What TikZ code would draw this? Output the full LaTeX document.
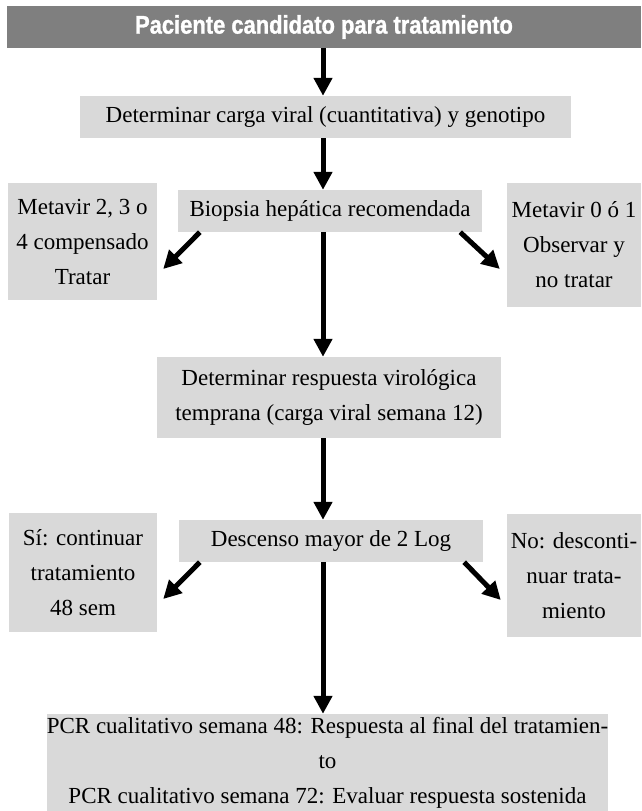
\documentclass[tikz,border=0pt]{standalone}
\usepackage{fontspec}
\setmainfont{Liberation Serif}
\newfontfamily\headfont[FakeStretch=0.86,FakeBold=1.2]{Liberation Sans}
\usepackage{tikz}
\usetikzlibrary{arrows.meta,positioning,calc}
\definecolor{boxgray}{HTML}{D9D9D9}
\definecolor{headgray}{HTML}{7F7F7F}

\begin{document}
\begin{tikzpicture}[x=1pt,y=-1pt,
    box/.style={fill=boxgray,inner sep=0pt,align=center,
      font=\fontsize{23}{35}\selectfont},
    arr/.style={line width=5pt,-{Triangle[width=18pt,length=18pt]}}]
        \useasboundingbox (0,0) rectangle (641,811);
        \coordinate (axis) at (323,0);
        \node[fill=headgray,text=white,inner sep=0pt,minimum width=634pt,minimum height=42pt,
          font=\headfont\bfseries\fontsize{25.5}{28}\selectfont] (head) at (324,27) {Paciente candidato para tratamiento};
        \node[box,minimum width=491pt,minimum height=42pt] (carga) at (325.5,117) {Determinar carga viral (cuantitativa) y genotipo};
        \node[box,minimum width=149pt,minimum height=117pt] (meta1) at (82.5,241.5) {Metavir 2, 3 o\\4 compensado\\Tratar};
        \node[box,minimum width=304pt,minimum height=42pt] (biopsia) at (330,211) {Biopsia hepática recomendada};
        \node[box,minimum width=134pt,minimum height=124pt] (meta0) at (574,245) {Metavir 0 ó 1\\Observar y\\no tratar};
        \node[box,minimum width=344pt,minimum height=81pt] (resp) at (329,397.5) {Determinar respuesta virológica\\temprana (carga viral semana 12)};
        \node[box,minimum width=148pt,minimum height=119pt] (si) at (83,572.5) {Sí: continuar\\tratamiento\\48 sem};
        \node[box,minimum width=304pt,minimum height=42pt] (desc) at (331,541) {Descenso mayor de 2 Log};
        \node[box,minimum width=134pt,minimum height=123pt] (no) at (574,575.5) {No: desconti-\\nuar trata-\\miento};
        \node[box,minimum width=559pt,minimum height=97pt] (pcr) at (327.5,762.5) {PCR cualitativo semana 48: Respuesta al final del tratamien-\\to\\PCR cualitativo semana 72: Evaluar respuesta sostenida};
        % flechas
        \draw[arr] (head.south -| axis) -- (carga.north -| axis);
        \draw[arr] (carga.south -| axis) -- (biopsia.north -| axis);
        \draw[arr] (biopsia.south -| axis) -- (resp.north -| axis);
        \draw[arr] (resp.south -| axis) -- (desc.north -| axis);
        \draw[arr] (desc.south -| axis) -- (pcr.north -| axis);
        \draw[arr] ([xshift=22pt]biopsia.south west) -- ([xshift=6pt,yshift=-27.5pt]meta1.east);
        \draw[arr] ([xshift=-22pt]biopsia.south east) -- ([xshift=-7pt,yshift=-24pt]meta0.west);
        \draw[arr] ([xshift=21pt]desc.south west) -- ([xshift=6pt,yshift=-26.5pt]si.east);
        \draw[arr] ([xshift=-19pt]desc.south east) -- ([xshift=-6pt,yshift=-24.5pt]no.west);
      \end{tikzpicture}
\end{document}
